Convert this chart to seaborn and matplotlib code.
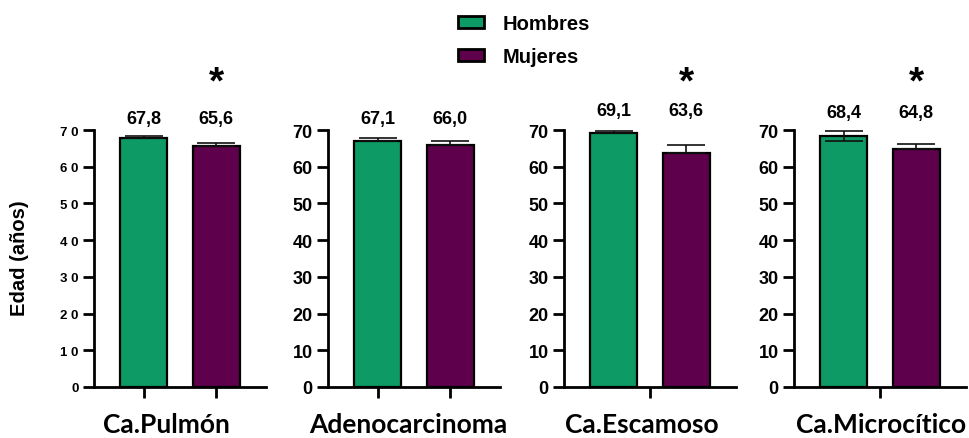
import numpy as np
import pandas as pd
import matplotlib
matplotlib.use("Agg")
import matplotlib.pyplot as plt
import seaborn as sns
from matplotlib.patches import Patch

# Mean age at diagnosis (years) by tumour type and sex
tipos = ["Ca.Pulmón", "Adenocarcinoma", "Ca.Escamoso", "Ca.Microcítico"]
sexos = ["Hombres", "Mujeres"]
edad_hombres = [67.8, 67.1, 69.1, 68.4]
edad_mujeres = [65.6, 66.0, 63.6, 64.8]
# standard error (upper / lower arm of the error bar)
err_sup_hombres = [0.5, 0.7, 0.6, 1.3]
err_sup_mujeres = [0.9, 1.0, 2.3, 1.5]
err_inf_hombres = [0.0, 0.0, 0.0, 1.3]
err_inf_mujeres = [0.0, 0.0, 0.0, 0.0]
# significant difference between sexes (asterisk over Mujeres)
significativo = [True, False, True, True]
ticks_y = [0, 10, 20, 30, 40, 50, 60, 70]

colores = {"Hombres": "#0d9a64", "Mujeres": "#5e004b"}

sns.set_theme(style="ticks")
plt.rcParams["font.family"] = ["Liberation Sans", "DejaVu Sans"]
plt.rcParams.update({
    "font.weight": "bold",
    "text.color": "black",
    "axes.labelcolor": "black",
    "xtick.color": "black",
    "ytick.color": "black",
    "axes.edgecolor": "black",
})

W, H = 969, 439
fig = plt.figure(figsize=(W / 100, H / 100), dpi=100)

lefts = [94, 328, 564, 794]
label_x = [166, 408, 642, 881]
value_y = [73.2, 73.0, 75.4, 74.9]
xticks_panel = [[0, 1], [0, 1], [0.5], [0.5]]

for i, tipo in enumerate(tipos):
    ax = fig.add_axes([lefts[i] / W, (H - 388) / H, 172 / W, 257 / H])
    df = pd.DataFrame({"sexo": sexos,
                       "edad": [edad_hombres[i], edad_mujeres[i]]})
    sns.barplot(data=df, x="sexo", y="edad", hue="sexo", order=sexos,
                hue_order=sexos, palette=colores, saturation=1,
                width=0.644, edgecolor="black", linewidth=1.6,
                errorbar=None, legend=False, ax=ax)
    vals = [edad_hombres[i], edad_mujeres[i]]
    ax.errorbar([0, 1], vals,
                yerr=[[err_inf_hombres[i], err_inf_mujeres[i]],
                      [err_sup_hombres[i], err_sup_mujeres[i]]],
                fmt="none", ecolor="#111111", elinewidth=1.2,
                capsize=14, capthick=1.2, zorder=3)
    for x, v in zip([0, 1], vals):
        ax.text(x, value_y[i], f"{v:.1f}".replace(".", ","),
                ha="center", va="center", fontsize=13, fontweight="bold",
                color="black")
    if significativo[i]:
        ax.text(1, 80.3, "*", ha="center", va="baseline", fontsize=28,
                fontweight="bold", color="black", clip_on=False)

    ax.set_xlim(-0.685, 1.685)
    ax.set_ylim(0, 70)
    ax.set_yticks(ticks_y)
    ax.set_xticks(xticks_panel[i])
    ax.set_xticklabels([])
    ax.set_xlabel("")
    ax.set_ylabel("")
    sns.despine(ax=ax)
    for s in ["left", "bottom"]:
        ax.spines[s].set_linewidth(2)
        ax.spines[s].set_color("black")
    ax.tick_params(axis="both", width=2, length=8, color="black", pad=3)
    if i == 0:
        ax.set_yticklabels([" ".join(str(t)) for t in ticks_y],
                           fontsize=9.5, fontweight="bold")
    else:
        ax.set_yticklabels([str(t) for t in ticks_y],
                           fontsize=13, fontweight="bold")

    fig.text(label_x[i] / W, 1.5 / H, tipo, ha="center", va="bottom",
             fontsize=19, fontweight="bold", family=["Lato", "DejaVu Sans"],
             color="black")

fig.text(20 / W, 1 - 258 / H, "Edad (años)", rotation=90, ha="center",
         va="center", fontsize=14.5, fontweight="bold", color="black")

handles = [Patch(facecolor=colores[s], edgecolor="black", linewidth=2)
           for s in sexos]
fig.legend(handles, sexos, loc="upper left",
           bbox_to_anchor=(458 / W, 1 - 15 / H), frameon=False,
           prop={"size": 14.5, "weight": "bold"}, handlelength=1.3,
           handleheight=0.6, handletextpad=0.9, labelspacing=0.7,
           borderpad=0, borderaxespad=0, labelcolor="black")

fig.savefig("out.png", dpi=100)
